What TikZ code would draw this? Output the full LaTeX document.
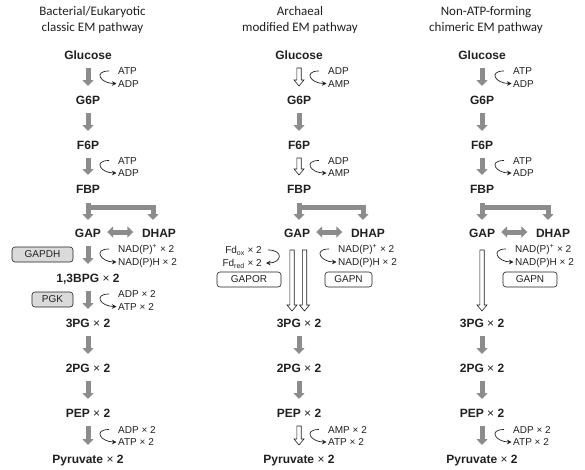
\documentclass[tikz,border=0pt]{standalone}
\usepackage{fontspec}
\setmainfont{Carlito}
\newfontfamily\arialf{Liberation Sans}
\usetikzlibrary{arrows.meta,calc}
\definecolor{gcol}{RGB}{140,140,140}
\definecolor{boxg}{RGB}{218,218,218}
\definecolor{txt}{RGB}{35,31,32}
\newcommand{\mytimes}{{\mdseries ×}}
\newcommand{\hollowarrow}[4]{%
 \draw[hollow] let \p1=(#1), \p2=(#2) in
 (\x1-2.2pt,\y1-#3) -- (\x1+2.2pt,\y1-#3) -- (\x1+2.2pt,\y2+#4+6pt) -- (\x1+5pt,\y2+#4+6pt)
 -- (\x1,\y2+#4) -- (\x1-5pt,\y2+#4+6pt) -- (\x1-2.2pt,\y2+#4+6pt) -- cycle;}
\tikzset{
 gtip/.tip={Triangle[width=11pt,length=6pt]},
 title/.style={font=\fontsize{13}{16}\selectfont, align=center, inner sep=0pt, text=txt},
 lbl/.style={font=\arialf\bfseries\fontsize{12}{14}\selectfont, inner sep=0pt, text height=8.6pt, text depth=0pt, text=txt},
 sm/.style={font=\arialf\fontsize{10}{12}\selectfont, inner sep=0pt, text height=7.2pt, text depth=0pt, anchor=west, text=txt},
 enz/.style={font=\arialf\fontsize{10}{12}\selectfont, draw=txt, line width=0.6pt, rounded corners=3pt, minimum height=15pt, inner sep=0pt, text=txt},
 garrow/.style={draw=gcol, line width=5pt, -gtip, shorten <=13pt, shorten >=14pt},
 gline/.style={draw=gcol, line width=5pt, line join=miter},
 curv/.style={draw=txt, line width=0.7pt, -{Stealth[length=4.5pt,width=4.5pt]}},
 hollow/.style={draw=txt, line width=0.6pt, fill=white, line join=miter},
}
\begin{document}
\begin{tikzpicture}[x=1pt,y=-1pt]
\useasboundingbox (0,0) rectangle (585,469);
% titles
\node[title] (t1) at (92.5,20) {Bacterial/Eukaryotic\\classic EM pathway};
\node[title] (t2) at (300,20) {Archaeal\\modified EM pathway};
\node[title] (t3) at (486,20) {Non-ATP-forming\\chimeric EM pathway};

% ===== column 1 =====
\node[lbl] (glc1) at (88,55) {Glucose};
\node[lbl] (g6p1) at (88,100) {G6P};
\node[lbl] (f6p1) at (88,145) {F6P};
\node[lbl] (fbp1) at (88,189) {FBP};
\node[lbl] (gap1) at (88,233) {GAP};
\node[lbl] (dhap1) at (159,233) {DHAP};
\node[lbl] (bpg1) at (88,278) {1,3BPG \mytimes{} 2};
\node[lbl] (pg31) at (88,323) {3PG \mytimes{} 2};
\node[lbl] (pg21) at (88,368) {2PG \mytimes{} 2};
\node[lbl] (pep1) at (88,413) {PEP \mytimes{} 2};
\node[lbl] (pyr1) at (88,459) {Pyruvate \mytimes{} 2};

\draw[garrow] (glc1.center) -- (g6p1.center);
\draw[garrow] (g6p1.center) -- (f6p1.center);
\draw[garrow] (f6p1.center) -- (fbp1.center);
\draw[garrow] (gap1.center) -- (bpg1.center);
\draw[garrow] (bpg1.center) -- (pg31.center);
\draw[garrow] (pg31.center) -- (pg21.center);
\draw[garrow] (pg21.center) -- (pep1.center);
\draw[garrow] (pep1.center) -- (pyr1.center);

\coordinate (br1) at ($(fbp1.center)+(0,14)$);
\draw[gline,-gtip] (br1) -- ($(gap1.center)+(0,-13)$);
\draw[gline,-gtip] ($(br1)+(-2.5,4.5)$) -| ($(dhap1.center)+(-6,-13)$);
\draw[gline,gtip-gtip] ($(gap1.east)+(6,-1)$) -- ($(dhap1.west)+(-8.5,-1)$);

\node[sm] (a1t) at (118,71) {ATP};
\node[sm] (a1b) at (118,83.5) {ADP};
\draw[curv] ($(a1t.west)+(-9,0)$) .. controls +(-16,0) and +(-16,0) .. ($(a1b.west)+(-1.5,0)$);
\node[sm] (a2t) at (118,160.5) {ATP};
\node[sm] (a2b) at (118,173) {ADP};
\draw[curv] ($(a2t.west)+(-9,0)$) .. controls +(-16,0) and +(-16,0) .. ($(a2b.west)+(-1.5,0)$);
\node[sm] (n1t) at (118,249) {NAD(P)\textsuperscript{+} \mytimes{} 2};
\node[sm] (n1b) at (118,262) {NAD(P)H \mytimes{} 2};
\draw[curv] ($(n1t.west)+(-9,0)$) .. controls +(-16,0) and +(-16,0) .. ($(n1b.west)+(-1.5,0)$);
\node[sm] (p1t) at (118,294) {ADP \mytimes{} 2};
\node[sm] (p1b) at (118,306.5) {ATP \mytimes{} 2};
\draw[curv] ($(p1t.west)+(-9,0)$) .. controls +(-16,0) and +(-16,0) .. ($(p1b.west)+(-1.5,0)$);
\node[sm] (k1t) at (118,429.5) {ADP \mytimes{} 2};
\node[sm] (k1b) at (118,442) {ATP \mytimes{} 2};
\draw[curv] ($(k1t.west)+(-9,0)$) .. controls +(-16,0) and +(-16,0) .. ($(k1b.west)+(-1.5,0)$);

\node[enz, fill=boxg, minimum width=61pt] (gapdh) at (42.5,254.5) {GAPDH};
\node[enz, fill=boxg, minimum width=41pt] (pgk) at (52.5,299.5) {PGK};

% ===== column 2 =====
\node[lbl] (glc2) at (299,55) {Glucose};
\node[lbl] (g6p2) at (299,100) {G6P};
\node[lbl] (f6p2) at (299,145) {F6P};
\node[lbl] (fbp2) at (299,189) {FBP};
\node[lbl] (gap2) at (297,233) {GAP};
\node[lbl] (dhap2) at (368,233) {DHAP};
\node[lbl] (pg32) at (299,323) {3PG \mytimes{} 2};
\node[lbl] (pg22) at (299,368) {2PG \mytimes{} 2};
\node[lbl] (pep2) at (299,413) {PEP \mytimes{} 2};
\node[lbl] (pyr2) at (299,459) {Pyruvate \mytimes{} 2};

\hollowarrow{glc2.center}{g6p2.center}{13pt}{14pt}
\draw[garrow] (g6p2.center) -- (f6p2.center);
\hollowarrow{f6p2.center}{fbp2.center}{13pt}{14pt}
\coordinate (br2) at ($(fbp2.center)+(0,14)$);
\draw[gline,-gtip] (br2) -- ($(br2)+(0,17)$);
\draw[gline,-gtip] ($(br2)+(-2.5,4.5)$) -| ($(dhap2.center)+(-5,-13)$);
\draw[gline,gtip-gtip] ($(gap2.east)+(6,-1)$) -- ($(dhap2.west)+(-8.5,-1)$);
\hollowarrow{$(gap2.center)+(-5,0)$}{$(pg32.center)+(-5,0)$}{17pt}{12pt}
\hollowarrow{$(gap2.center)+(7.5,0)$}{$(pg32.center)+(7.5,0)$}{17pt}{12pt}
\draw[garrow] (pg32.center) -- (pg22.center);
\draw[garrow] (pg22.center) -- (pep2.center);
\hollowarrow{pep2.center}{pyr2.center}{13pt}{14pt}

\node[sm] (b1t) at (328,71) {ADP};
\node[sm] (b1b) at (328,83.5) {AMP};
\draw[curv] ($(b1t.west)+(-9,0)$) .. controls +(-16,0) and +(-16,0) .. ($(b1b.west)+(-1.5,0)$);
\node[sm] (b2t) at (328,160.5) {ADP};
\node[sm] (b2b) at (328,173) {AMP};
\draw[curv] ($(b2t.west)+(-9,0)$) .. controls +(-16,0) and +(-16,0) .. ($(b2b.west)+(-1.5,0)$);
\node[sm, anchor=east] (fdo) at (262,250) {Fd\textsubscript{ox} \mytimes{} 2};
\node[sm, anchor=east] (fdr) at (262,263) {Fd\textsubscript{red} \mytimes{} 2};
\draw[curv] ($(fdo.east)+(6,0)$) .. controls +(16,0) and +(16,0) .. ($(fdr.east)+(4,0)$);
\node[sm] (n2t) at (338,249) {NAD(P)\textsuperscript{+} \mytimes{} 2};
\node[sm] (n2b) at (338,262) {NAD(P)H \mytimes{} 2};
\draw[curv] ($(n2t.west)+(-9,0)$) .. controls +(-16,0) and +(-16,0) .. ($(n2b.west)+(-1.5,0)$);
\node[sm] (k2t) at (328,429.5) {AMP \mytimes{} 2};
\node[sm] (k2b) at (328,442) {ATP \mytimes{} 2};
\draw[curv] ($(k2t.west)+(-9,0)$) .. controls +(-16,0) and +(-16,0) .. ($(k2b.west)+(-1.5,0)$);

\node[enz, fill=white, minimum width=64pt] (gapor) at (249,279.5) {GAPOR};
\node[enz, fill=white, minimum width=47pt] (gapn2) at (348.5,279.5) {GAPN};

% ===== column 3 =====
\node[lbl] (glc3) at (482,55) {Glucose};
\node[lbl] (g6p3) at (482,100) {G6P};
\node[lbl] (f6p3) at (482,145) {F6P};
\node[lbl] (fbp3) at (482,189) {FBP};
\node[lbl] (gap3) at (482,233) {GAP};
\node[lbl] (dhap3) at (553,233) {DHAP};
\node[lbl] (pg33) at (482,323) {3PG \mytimes{} 2};
\node[lbl] (pg23) at (482,368) {2PG \mytimes{} 2};
\node[lbl] (pep3) at (482,413) {PEP \mytimes{} 2};
\node[lbl] (pyr3) at (482,459) {Pyruvate \mytimes{} 2};

\draw[garrow] (glc3.center) -- (g6p3.center);
\draw[garrow] (g6p3.center) -- (f6p3.center);
\draw[garrow] (f6p3.center) -- (fbp3.center);
\coordinate (br3) at ($(fbp3.center)+(0,14)$);
\draw[gline,-gtip] (br3) -- ($(gap3.center)+(0,-13)$);
\draw[gline,-gtip] ($(br3)+(-2.5,4.5)$) -| ($(dhap3.center)+(-5,-13)$);
\draw[gline,gtip-gtip] ($(gap3.east)+(6,-1)$) -- ($(dhap3.west)+(-8.5,-1)$);
\hollowarrow{gap3.center}{pg33.center}{17pt}{12pt}
\draw[garrow] (pg33.center) -- (pg23.center);
\draw[garrow] (pg23.center) -- (pep3.center);
\draw[garrow] (pep3.center) -- (pyr3.center);

\node[sm] (c1t) at (513,71) {ATP};
\node[sm] (c1b) at (513,83.5) {ADP};
\draw[curv] ($(c1t.west)+(-9,0)$) .. controls +(-16,0) and +(-16,0) .. ($(c1b.west)+(-1.5,0)$);
\node[sm] (c2t) at (513,160.5) {ATP};
\node[sm] (c2b) at (513,173) {ADP};
\draw[curv] ($(c2t.west)+(-9,0)$) .. controls +(-16,0) and +(-16,0) .. ($(c2b.west)+(-1.5,0)$);
\node[sm] (n3t) at (515,249) {NAD(P)\textsuperscript{+} \mytimes{} 2};
\node[sm] (n3b) at (515,262) {NAD(P)H \mytimes{} 2};
\draw[curv] ($(n3t.west)+(-9,0)$) .. controls +(-16,0) and +(-16,0) .. ($(n3b.west)+(-1.5,0)$);
\node[sm] (k3t) at (513,429.5) {ADP \mytimes{} 2};
\node[sm] (k3b) at (513,442) {ATP \mytimes{} 2};
\draw[curv] ($(k3t.west)+(-9,0)$) .. controls +(-16,0) and +(-16,0) .. ($(k3b.west)+(-1.5,0)$);

\node[enz, fill=white, minimum width=54pt] (gapn3) at (530,279.5) {GAPN};
\end{tikzpicture}
\end{document}
